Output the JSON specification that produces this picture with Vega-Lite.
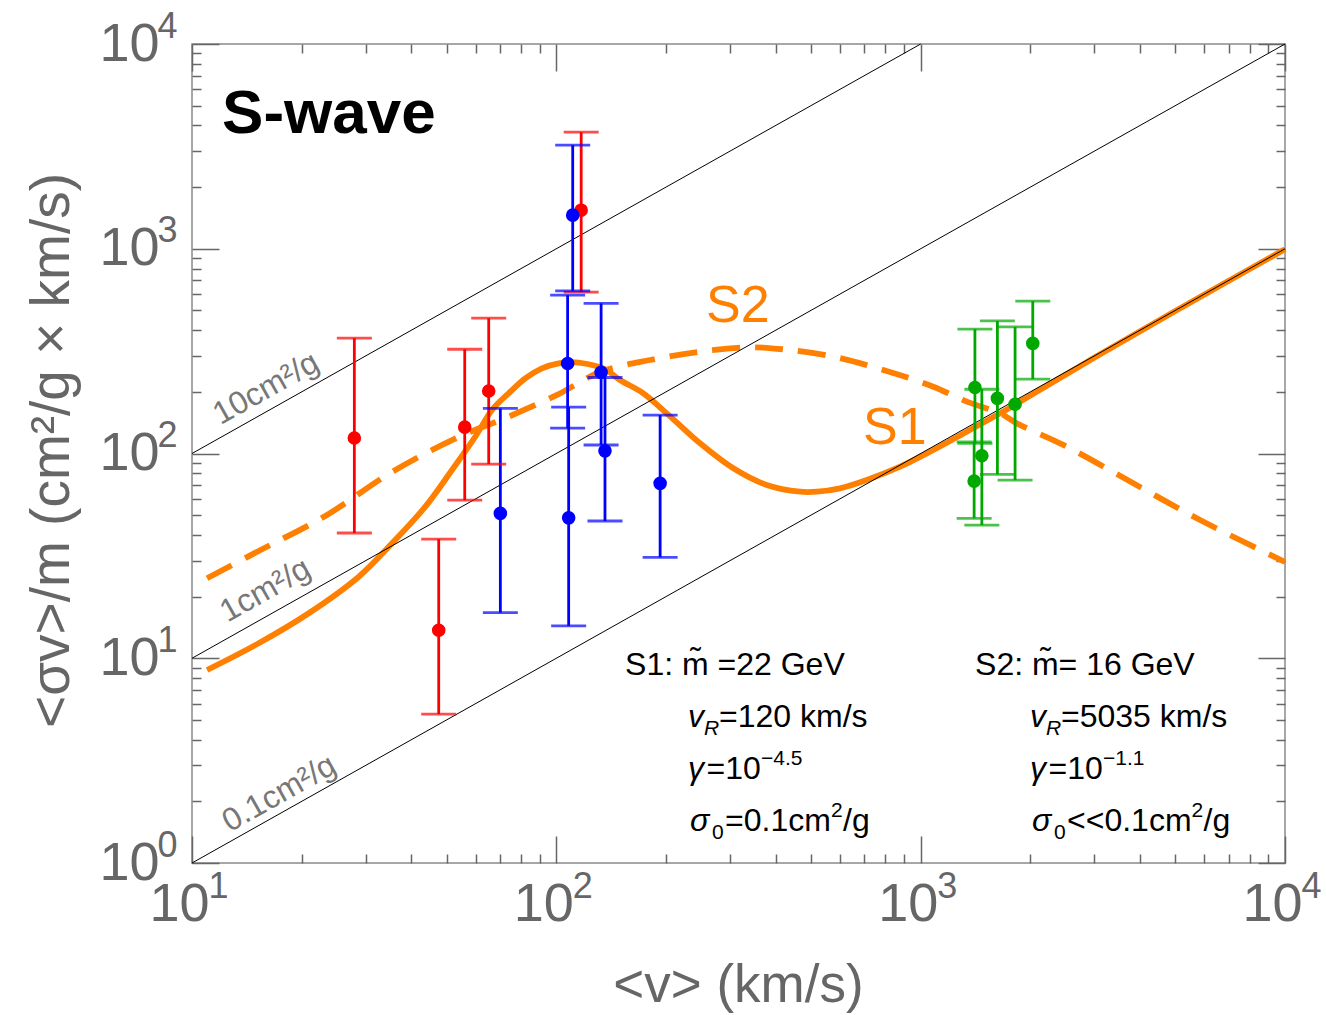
{
  "$schema": "https://vega.github.io/schema/vega-lite/v6.json",
  "width": 1093,
  "height": 819,
  "autosize": {"type": "none"},
  "padding": {"left": 192, "top": 44, "right": 41, "bottom": 152},
  "background": "white",
  "datasets": {
    "s1": [
      {"v": 11.0, "y": 8.76}, {"v": 15.24, "y": 11.83}, {"v": 20.91, "y": 16.58}, {"v": 28.69, "y": 25.02},
      {"v": 35.4, "y": 36.42}, {"v": 43.69, "y": 54.98}, {"v": 51.72, "y": 83.07}, {"v": 59.93, "y": 120.8},
      {"v": 66.59, "y": 163.2}, {"v": 73.99, "y": 196.8}, {"v": 82.17, "y": 232.9}, {"v": 91.32, "y": 260.7},
      {"v": 101.5, "y": 275.8}, {"v": 112.7, "y": 278.9}, {"v": 125.3, "y": 270.5}, {"v": 136.3, "y": 257.8},
      {"v": 149.5, "y": 228.6}, {"v": 173.3, "y": 196.8}, {"v": 200.9, "y": 157.1}, {"v": 248.0, "y": 112.1},
      {"v": 306.0, "y": 84.67}, {"v": 377.9, "y": 70.19}, {"v": 466.6, "y": 65.08}, {"v": 518.4, "y": 65.08},
      {"v": 600.6, "y": 67.61}, {"v": 711.1, "y": 74.24}, {"v": 877.9, "y": 86.2}, {"v": 1083, "y": 104.0},
      {"v": 1338, "y": 127.8}, {"v": 1652, "y": 157.1}, {"v": 2000, "y": 192}, {"v": 3000, "y": 294},
      {"v": 5000, "y": 496}, {"v": 10000, "y": 995}
    ],
    "s2": [
      {"v": 11.0, "y": 24.58}, {"v": 15.24, "y": 33.41}, {"v": 23.22, "y": 49.52}, {"v": 35.4, "y": 81.22},
      {"v": 53.95, "y": 120.4}, {"v": 73.99, "y": 151.2}, {"v": 101.5, "y": 195.2}, {"v": 131.8, "y": 250.0},
      {"v": 180.8, "y": 286.2}, {"v": 248.0, "y": 314.2}, {"v": 340.1, "y": 330.1}, {"v": 419.8, "y": 322.8},
      {"v": 575.8, "y": 297.1}, {"v": 789.7, "y": 255.7}, {"v": 1083, "y": 212.0}, {"v": 1338, "y": 179.1},
      {"v": 1652, "y": 157.1}, {"v": 1835, "y": 140.4}, {"v": 2518, "y": 108.0}, {"v": 3835, "y": 71.52},
      {"v": 5847, "y": 47.33}, {"v": 10000, "y": 29.52}
    ],
    "diag": [
      {"k": "10", "v": 10, "y": 100}, {"k": "10", "v": 1000, "y": 10000},
      {"k": "1", "v": 10, "y": 10}, {"k": "1", "v": 10000, "y": 10000},
      {"k": "0.1", "v": 10, "y": 1}, {"k": "0.1", "v": 10000, "y": 1000}
    ],
    "pts": [
      {"grp": "red", "v": 27.9, "y": 119, "lo": 40.9, "hi": 366},
      {"grp": "red", "v": 47.55, "y": 13.7, "lo": 5.34, "hi": 38.2},
      {"grp": "red", "v": 56.05, "y": 134.5, "lo": 59.2, "hi": 323},
      {"grp": "red", "v": 65.22, "y": 202, "lo": 88.8, "hi": 458},
      {"grp": "red", "v": 117, "y": 1543, "lo": 614, "hi": 3710},
      {"grp": "blue", "v": 70.2, "y": 51.0, "lo": 16.7, "hi": 166},
      {"grp": "blue", "v": 110.9, "y": 1459, "lo": 623, "hi": 3206},
      {"grp": "blue", "v": 107.4, "y": 275, "lo": 133, "hi": 593},
      {"grp": "blue", "v": 108.1, "y": 48.5, "lo": 14.4, "hi": 168.5},
      {"grp": "blue", "v": 132.7, "y": 249, "lo": 110, "hi": 541},
      {"grp": "blue", "v": 136, "y": 103, "lo": 46.8, "hi": 235},
      {"grp": "blue", "v": 192.7, "y": 71.5, "lo": 31.1, "hi": 154},
      {"grp": "green", "v": 1409, "y": 210, "lo": 112, "hi": 405},
      {"grp": "green", "v": 1472, "y": 97.5, "lo": 44.7, "hi": 206},
      {"grp": "green", "v": 1402, "y": 73.3, "lo": 48.2, "hi": 114},
      {"grp": "green", "v": 1624, "y": 186, "lo": 79, "hi": 444},
      {"grp": "green", "v": 1816, "y": 174, "lo": 74.1, "hi": 415.6},
      {"grp": "green", "v": 2031, "y": 345, "lo": 231, "hi": 555}
    ],
    "diagLab": [
      {"t": "10cm²/g", "v": 15.96, "y": 208.2},
      {"t": "1cm²/g", "v": 15.89, "y": 21.54},
      {"t": "0.1cm²/g", "v": 17.35, "y": 2.19}
    ],
    "title": [{"t": "S-wave", "v": 12.09, "y": 3675}],
    "sLab": [{"t": "S2", "v": 257.5, "y": 438.7}, {"t": "S1", "v": 694.5, "y": 111.3}],
    "annoReg": [
      {"t": "S1: m̃ =22 GeV", "v": 154.4, "y": 8.283},
      {"t": "S2: m̃= 16 GeV", "v": 1410, "y": 8.283},
      {"t": "=120 km/s", "v": 279.6, "y": 4.616},
      {"t": "=5035 km/s", "v": 2428, "y": 4.616},
      {"t": "=10", "v": 258.4, "y": 2.572},
      {"t": "=10", "v": 2244, "y": 2.572},
      {"t": "=0.1cm", "v": 290.4, "y": 1.433},
      {"t": "<<0.1cm", "v": 2522, "y": 1.433},
      {"t": "/g", "v": 612.1, "y": 1.433},
      {"t": "/g", "v": 5975, "y": 1.433}
    ],
    "annoItal": [
      {"t": "v", "v": 229.9, "y": 4.616}, {"t": "v", "v": 1995.7, "y": 4.616},
      {"t": "γ", "v": 229.9, "y": 2.572}, {"t": "γ", "v": 1995.7, "y": 2.572},
      {"t": "σ", "v": 232.8, "y": 1.433}, {"t": "σ", "v": 2021, "y": 1.433}
    ],
    "annoSubItal": [
      {"t": "R", "v": 254.3, "y": 4.219}, {"t": "R", "v": 2208, "y": 4.219}
    ],
    "annoSmall": [
      {"t": "−4.5", "v": 364.6, "y": 3.01}, {"t": "−1.1", "v": 3166, "y": 3.01},
      {"t": "0", "v": 267.5, "y": 1.31}, {"t": "0", "v": 2323, "y": 1.31},
      {"t": "2", "v": 567.5, "y": 1.677}, {"t": "2", "v": 5538, "y": 1.677}
    ]
  },
  "resolve": {"axis": {"x": "independent", "y": "independent"}},
  "layer": [
    {
      "data": {"name": "s1"},
      "mark": {"type": "line", "color": "#ff8000", "strokeWidth": 5.8, "interpolate": "catmull-rom"},
      "encoding": {
        "x": {"field": "v", "type": "quantitative", "scale": {"type": "log", "domain": [10, 10000], "nice": false},
          "axis": {"orient": "bottom", "values": [10, 100, 1000, 10000], "labelExpr": "'10'", "ticks": false, "tickSize": 0,
            "labelFontSize": 54, "labelPadding": 41, "labelBaseline": "middle", "labelOffset": -13,
            "title": "<v> (km/s)", "titleFontSize": 53, "titleX": 546, "titleY": 122, "titleBaseline": "middle", "titleAlign": "center"}},
        "y": {"field": "y", "type": "quantitative", "scale": {"type": "log", "domain": [1, 10000], "nice": false},
          "axis": {"orient": "left", "values": [1, 10, 100, 1000, 10000], "labelExpr": "'10'", "ticks": false, "tickSize": 0,
            "labelFontSize": 54, "labelPadding": 33, "labelBaseline": "middle",
            "title": "<σv>/m (cm²/g × km/s)", "titleFontSize": 55, "titleX": -141, "titleY": 406, "titleAngle": 270,
            "titleBaseline": "middle", "titleAlign": "center"}}
      }
    },
    {
      "data": {"name": "s2"},
      "mark": {"type": "line", "color": "#ff8000", "strokeWidth": 5.8, "strokeDash": [28, 15], "interpolate": "catmull-rom"},
      "encoding": {
        "x": {"field": "v", "type": "quantitative", "scale": {"type": "log", "domain": [10, 10000], "nice": false},
          "axis": {"orient": "bottom", "values": [10, 100, 1000, 10000], "labelExpr": "'' + round(log(datum.value)/LN10)",
            "ticks": false, "tickSize": 0, "labelFontSize": 36, "labelPadding": 23, "labelBaseline": "middle", "labelOffset": 26, "title": null}},
        "y": {"field": "y", "type": "quantitative", "scale": {"type": "log", "domain": [1, 10000], "nice": false},
          "axis": {"orient": "left", "values": [1, 10, 100, 1000, 10000], "labelExpr": "'' + round(log(datum.value)/LN10)",
            "ticks": false, "tickSize": 0, "labelFontSize": 36, "labelPadding": 35, "labelAlign": "left", "labelBaseline": "middle", "labelOffset": -18, "title": null}}
      }
    },
    {
      "data": {"name": "diag"},
      "mark": {"type": "line", "color": "#000000", "strokeWidth": 1},
      "encoding": {
        "x": {"field": "v", "type": "quantitative", "scale": {"type": "log", "domain": [10, 10000], "nice": false},
          "axis": {"orient": "bottom", "values": [10, 100, 1000, 10000], "labels": false, "tickSize": -27, "tickWidth": 1.5, "title": null}},
        "y": {"field": "y", "type": "quantitative", "scale": {"type": "log", "domain": [1, 10000], "nice": false},
          "axis": {"orient": "left", "values": [1, 10, 100, 1000, 10000], "labels": false, "tickSize": -27, "tickWidth": 1.5, "title": null}},
        "detail": {"field": "k"}
      }
    },
    {
      "data": {"name": "pts"},
      "mark": {"type": "rule", "strokeWidth": 2.8},
      "encoding": {
        "x": {"field": "v", "type": "quantitative", "scale": {"type": "log", "domain": [10, 10000], "nice": false},
          "axis": {"orient": "bottom", "values": [20, 30, 40, 50, 60, 70, 80, 90, 200, 300, 400, 500, 600, 700, 800, 900, 2000, 3000, 4000, 5000, 6000, 7000, 8000, 9000],
            "labels": false, "tickSize": -9, "tickWidth": 1.5, "title": null}},
        "y": {"field": "lo", "type": "quantitative", "scale": {"type": "log", "domain": [1, 10000], "nice": false},
          "axis": {"orient": "left", "values": [2, 3, 4, 5, 6, 7, 8, 9, 20, 30, 40, 50, 60, 70, 80, 90, 200, 300, 400, 500, 600, 700, 800, 900, 2000, 3000, 4000, 5000, 6000, 7000, 8000, 9000],
            "labels": false, "tickSize": -9, "tickWidth": 1.5, "title": null}},
        "y2": {"field": "hi"},
        "color": {"field": "grp", "type": "nominal", "scale": {"domain": ["red", "blue", "green"], "range": ["#ff0000", "#0000ff", "#00a800"]}, "legend": null}
      }
    },
    {
      "data": {"name": "pts"},
      "mark": {"type": "tick", "orient": "horizontal", "size": 35, "thickness": 2.8},
      "encoding": {
        "x": {"field": "v", "type": "quantitative", "scale": {"type": "log", "domain": [10, 10000], "nice": false},
          "axis": {"orient": "top", "values": [10, 100, 1000, 10000], "labels": false, "tickSize": -27, "tickWidth": 1.5, "title": null}},
        "y": {"field": "lo", "type": "quantitative", "scale": {"type": "log", "domain": [1, 10000], "nice": false},
          "axis": {"orient": "right", "values": [1, 10, 100, 1000, 10000], "labels": false, "tickSize": -27, "tickWidth": 1.5, "title": null}},
        "color": {"field": "grp", "type": "nominal", "legend": null}
      }
    },
    {
      "data": {"name": "pts"},
      "mark": {"type": "tick", "orient": "horizontal", "size": 35, "thickness": 2.8},
      "encoding": {
        "x": {"field": "v", "type": "quantitative", "scale": {"type": "log", "domain": [10, 10000], "nice": false},
          "axis": {"orient": "top", "values": [20, 30, 40, 50, 60, 70, 80, 90, 200, 300, 400, 500, 600, 700, 800, 900, 2000, 3000, 4000, 5000, 6000, 7000, 8000, 9000],
            "labels": false, "tickSize": -9, "tickWidth": 1.5, "title": null}},
        "y": {"field": "hi", "type": "quantitative", "scale": {"type": "log", "domain": [1, 10000], "nice": false},
          "axis": {"orient": "right", "values": [2, 3, 4, 5, 6, 7, 8, 9, 20, 30, 40, 50, 60, 70, 80, 90, 200, 300, 400, 500, 600, 700, 800, 900, 2000, 3000, 4000, 5000, 6000, 7000, 8000, 9000],
            "labels": false, "tickSize": -9, "tickWidth": 1.5, "title": null}},
        "color": {"field": "grp", "type": "nominal", "legend": null}
      }
    },
    {
      "data": {"name": "pts"},
      "mark": {"type": "circle", "size": 185, "opacity": 1},
      "encoding": {
        "x": {"field": "v", "type": "quantitative", "axis": null},
        "y": {"field": "y", "type": "quantitative", "axis": null},
        "color": {"field": "grp", "type": "nominal", "legend": null}
      }
    },
    {
      "data": {"name": "diagLab"},
      "mark": {"type": "text", "font": "Liberation Sans", "fontSize": 32, "color": "#777777", "angle": 330.66, "align": "center", "baseline": "middle"},
      "encoding": {
        "x": {"field": "v", "type": "quantitative", "axis": null},
        "y": {"field": "y", "type": "quantitative", "axis": null},
        "text": {"field": "t"}
      }
    },
    {
      "data": {"name": "title"},
      "mark": {"type": "text", "font": "Liberation Sans", "fontSize": 62, "fontWeight": "bold", "color": "#000000", "align": "left", "baseline": "alphabetic"},
      "encoding": {
        "x": {"field": "v", "type": "quantitative", "axis": null},
        "y": {"field": "y", "type": "quantitative", "axis": null},
        "text": {"field": "t"}
      }
    },
    {
      "data": {"name": "sLab"},
      "mark": {"type": "text", "font": "Liberation Sans", "fontSize": 52, "color": "#ff8000", "align": "left", "baseline": "alphabetic"},
      "encoding": {
        "x": {"field": "v", "type": "quantitative", "axis": null},
        "y": {"field": "y", "type": "quantitative", "axis": null},
        "text": {"field": "t"}
      }
    },
    {
      "data": {"name": "annoReg"},
      "mark": {"type": "text", "font": "Liberation Sans", "fontSize": 32, "color": "#000000", "align": "left", "baseline": "alphabetic"},
      "encoding": {
        "x": {"field": "v", "type": "quantitative", "axis": null},
        "y": {"field": "y", "type": "quantitative", "axis": null},
        "text": {"field": "t"}
      }
    },
    {
      "data": {"name": "annoItal"},
      "mark": {"type": "text", "font": "Liberation Sans", "fontSize": 32, "fontStyle": "italic", "color": "#000000", "align": "left", "baseline": "alphabetic"},
      "encoding": {
        "x": {"field": "v", "type": "quantitative", "axis": null},
        "y": {"field": "y", "type": "quantitative", "axis": null},
        "text": {"field": "t"}
      }
    },
    {
      "data": {"name": "annoSubItal"},
      "mark": {"type": "text", "font": "Liberation Sans", "fontSize": 21, "fontStyle": "italic", "color": "#000000", "align": "left", "baseline": "alphabetic"},
      "encoding": {
        "x": {"field": "v", "type": "quantitative", "axis": null},
        "y": {"field": "y", "type": "quantitative", "axis": null},
        "text": {"field": "t"}
      }
    },
    {
      "data": {"name": "annoSmall"},
      "mark": {"type": "text", "font": "Liberation Sans", "fontSize": 21, "color": "#000000", "align": "left", "baseline": "alphabetic"},
      "encoding": {
        "x": {"field": "v", "type": "quantitative", "axis": null},
        "y": {"field": "y", "type": "quantitative", "axis": null},
        "text": {"field": "t"}
      }
    }
  ],
  "config": {
    "view": {"stroke": "#8a8a8a", "strokeWidth": 1.5},
    "axis": {
      "grid": false, "domain": false,
      "labelFont": "Liberation Sans", "titleFont": "Liberation Sans",
      "labelColor": "#666666", "titleColor": "#666666", "tickColor": "#666666",
      "titleFontWeight": "normal", "labelFlush": false, "labelOverlap": false, "labelBound": false
    }
  }
}
